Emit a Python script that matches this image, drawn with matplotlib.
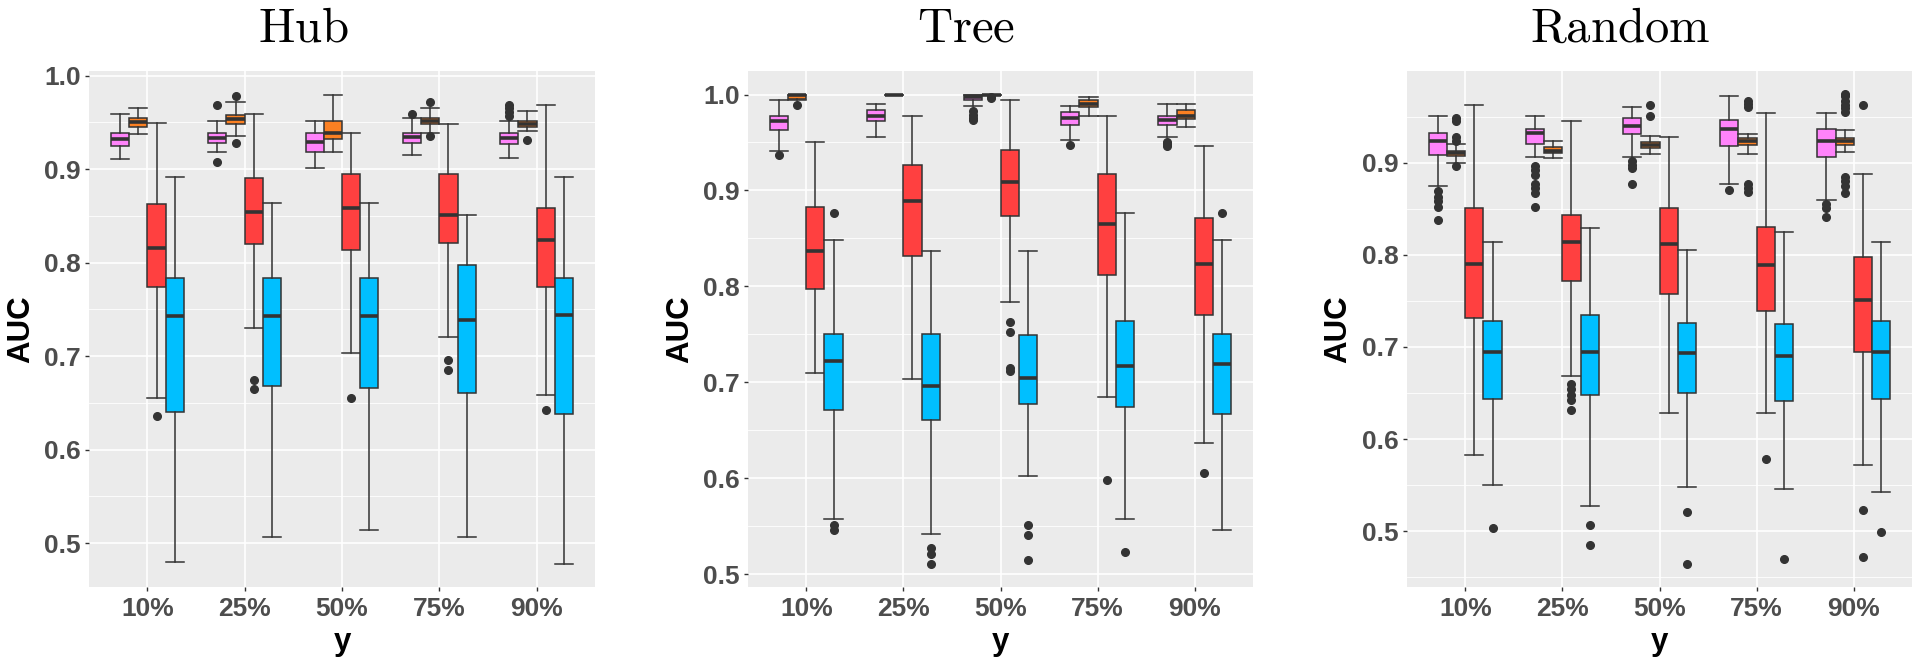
import matplotlib
matplotlib.use("Agg")
import matplotlib.pyplot as plt
from matplotlib.ticker import FixedLocator

plt.rcParams['mathtext.fontset'] = 'cm'

# ---------------- data ----------------
CATEGORIES = ['10%', '25%', '50%', '75%', '90%']
PANEL_TITLES = ['Hub', 'Tree', 'Random']
GROUP_COLORS = ['#FF83FA', '#FB8022', '#FF4040', '#00BFFF']

# rows: [lower whisker, Q1, median, Q3, upper whisker] per category
HUB_PINK = [[0.911, 0.925, 0.932, 0.939, 0.959],
            [0.918, 0.928, 0.933, 0.939, 0.952],
            [0.901, 0.918, 0.929, 0.939, 0.952],
            [0.915, 0.928, 0.934, 0.939, 0.955],
            [0.912, 0.927, 0.933, 0.939, 0.952]]
HUB_PINK_OUT = [[], [0.969, 0.908], [], [0.959], [0.969, 0.965, 0.961, 0.957]]
HUB_ORANGE = [[0.938, 0.945, 0.950, 0.955, 0.965],
              [0.935, 0.948, 0.954, 0.958, 0.972],
              [0.918, 0.932, 0.939, 0.952, 0.979],
              [0.939, 0.948, 0.952, 0.955, 0.965],
              [0.941, 0.945, 0.948, 0.952, 0.962]]
HUB_ORANGE_OUT = [[], [0.978, 0.928], [], [0.972, 0.935], [0.931]]
HUB_RED = [[0.655, 0.774, 0.816, 0.863, 0.949],
           [0.730, 0.820, 0.854, 0.890, 0.959],
           [0.703, 0.814, 0.858, 0.895, 0.939],
           [0.720, 0.821, 0.851, 0.895, 0.948],
           [0.658, 0.774, 0.824, 0.858, 0.969]]
HUB_RED_OUT = [[0.636], [0.674, 0.665], [0.655], [0.696, 0.685], [0.642]]
HUB_BLUE = [[0.480, 0.640, 0.743, 0.784, 0.892],
            [0.507, 0.668, 0.743, 0.784, 0.864],
            [0.514, 0.666, 0.743, 0.784, 0.864],
            [0.507, 0.661, 0.739, 0.797, 0.851],
            [0.478, 0.638, 0.744, 0.784, 0.892]]
HUB_BLUE_OUT = [[], [], [], [], []]

TREE_PINK = [[0.941, 0.963, 0.972, 0.978, 0.994],
             [0.956, 0.972, 0.978, 0.984, 0.990],
             [0.988, 0.994, 0.997, 1.000, 1.000],
             [0.953, 0.9685, 0.976, 0.9815, 0.988],
             [0.956, 0.968, 0.973, 0.978, 0.990]]
TREE_PINK_OUT = [[0.937], [], [0.9825, 0.979, 0.976, 0.973], [0.947], [0.951, 0.948, 0.946]]
TREE_ORANGE = [[0.994, 0.9955, 0.999, 1.000, 1.000],
               [1.000, 1.000, 1.000, 1.000, 1.000],
               [1.000, 1.000, 1.000, 1.000, 1.000],
               [0.978, 0.987, 0.990, 0.994, 0.997],
               [0.966, 0.9745, 0.978, 0.984, 0.990]]
TREE_ORANGE_OUT = [[0.9895], [], [0.997, 0.996], [], []]
TREE_RED = [[0.710, 0.797, 0.837, 0.883, 0.950],
            [0.703, 0.832, 0.889, 0.926, 0.978],
            [0.784, 0.873, 0.909, 0.942, 0.994],
            [0.685, 0.812, 0.865, 0.917, 0.978],
            [0.637, 0.770, 0.823, 0.871, 0.946]]
TREE_RED_OUT = [[], [], [0.763, 0.752, 0.715, 0.712], [0.598], [0.605]]
TREE_BLUE = [[0.558, 0.671, 0.722, 0.750, 0.848],
             [0.542, 0.661, 0.696, 0.750, 0.837],
             [0.602, 0.677, 0.704, 0.749, 0.837],
             [0.558, 0.674, 0.717, 0.764, 0.876],
             [0.546, 0.667, 0.719, 0.750, 0.848]]
TREE_BLUE_OUT = [[0.876, 0.551, 0.546], [0.527, 0.521, 0.511], [0.551, 0.541, 0.515], [0.523], [0.876]]

RANDOM_PINK = [[0.875, 0.908, 0.923, 0.932, 0.951],
               [0.906, 0.920, 0.932, 0.937, 0.951],
               [0.906, 0.931, 0.940, 0.948, 0.960],
               [0.877, 0.918, 0.937, 0.946, 0.972],
               [0.860, 0.906, 0.923, 0.937, 0.954]]
RANDOM_PINK_OUT = [[0.869, 0.863, 0.858, 0.852, 0.838],
                   [0.896, 0.892, 0.887, 0.877, 0.872, 0.867, 0.852],
                   [0.902, 0.898, 0.894, 0.877],
                   [0.870],
                   [0.855, 0.851, 0.841]]
RANDOM_ORANGE = [[0.900, 0.907, 0.911, 0.913, 0.920],
                 [0.905, 0.910, 0.913, 0.917, 0.924],
                 [0.909, 0.916, 0.919, 0.922, 0.929],
                 [0.909, 0.919, 0.923, 0.927, 0.931],
                 [0.912, 0.919, 0.924, 0.927, 0.935]]
RANDOM_ORANGE_OUT = [[0.949, 0.945, 0.928, 0.924, 0.896],
                     [],
                     [0.963, 0.951],
                     [0.967, 0.964, 0.960, 0.877, 0.873, 0.868],
                     [0.975, 0.972, 0.967, 0.963, 0.959, 0.955, 0.885, 0.880, 0.875, 0.867]]
RANDOM_RED = [[0.583, 0.731, 0.790, 0.851, 0.963],
              [0.668, 0.772, 0.814, 0.843, 0.945],
              [0.628, 0.757, 0.812, 0.851, 0.928],
              [0.628, 0.739, 0.789, 0.830, 0.954],
              [0.572, 0.695, 0.751, 0.798, 0.888]]
RANDOM_RED_OUT = [[], [0.660, 0.654, 0.648, 0.642, 0.632], [], [0.578], [0.963, 0.523, 0.472]]
RANDOM_BLUE = [[0.550, 0.643, 0.694, 0.728, 0.814],
               [0.527, 0.648, 0.694, 0.735, 0.829],
               [0.548, 0.650, 0.693, 0.726, 0.805],
               [0.546, 0.641, 0.690, 0.725, 0.825],
               [0.543, 0.643, 0.694, 0.728, 0.814]]
RANDOM_BLUE_OUT = [[0.503], [0.507, 0.485], [0.521, 0.465], [0.470], [0.499]]

PANELS = [
    [(HUB_PINK, HUB_PINK_OUT), (HUB_ORANGE, HUB_ORANGE_OUT),
     (HUB_RED, HUB_RED_OUT), (HUB_BLUE, HUB_BLUE_OUT)],
    [(TREE_PINK, TREE_PINK_OUT), (TREE_ORANGE, TREE_ORANGE_OUT),
     (TREE_RED, TREE_RED_OUT), (TREE_BLUE, TREE_BLUE_OUT)],
    [(RANDOM_PINK, RANDOM_PINK_OUT), (RANDOM_ORANGE, RANDOM_ORANGE_OUT),
     (RANDOM_RED, RANDOM_RED_OUT), (RANDOM_BLUE, RANDOM_BLUE_OUT)],
]

Y_MAJOR = [0.5, 0.6, 0.7, 0.8, 0.9, 1.0]
Y_MINOR = [0.45, 0.55, 0.65, 0.75, 0.85, 0.95]

# ---------------- layout ----------------
W, H = 1920, 662
fig = plt.figure(figsize=(W / 100, H / 100), dpi=100)

AX_PX = [(89, 71, 506, 516), (748, 71, 505, 516), (1407, 71, 505, 516)]
YLIMS = [(0.453, 1.005), (0.4866, 1.0245), (0.4395, 0.9995)]
TITLE_X = [303, 966, 1620]
YLABEL_X = [21, 680, 1338]

BW = 0.1875
OFFSETS = [-1.5 * BW, -0.5 * BW, 0.5 * BW, 1.5 * BW]
EDGE = '#333333'
TICK_FONT = dict(family='Liberation Sans', weight='bold', size=19)

for pi, groups in enumerate(PANELS):
    x0, y0, w, h = AX_PX[pi]
    ax = fig.add_axes([x0 / W, 1 - (y0 + h) / H, w / W, h / H])
    ax.set_facecolor('#EBEBEB')
    for s in ax.spines.values():
        s.set_visible(False)
    ax.set_axisbelow(True)

    for gi, (rows, outs) in enumerate(groups):
        stats = [dict(whislo=r[0], q1=r[1], med=r[2], q3=r[3], whishi=r[4],
                      fliers=list(o)) for r, o in zip(rows, outs)]
        pos = [i + 1 + OFFSETS[gi] for i in range(len(CATEGORIES))]
        ax.bxp(stats, positions=pos, widths=BW, capwidths=BW,
               patch_artist=True, showfliers=True, manage_ticks=False,
               boxprops=dict(facecolor=GROUP_COLORS[gi], edgecolor=EDGE, linewidth=1.1),
               medianprops=dict(color=EDGE, linewidth=2.6, solid_capstyle='butt'),
               whiskerprops=dict(color=EDGE, linewidth=1.1),
               capprops=dict(color=EDGE, linewidth=1.1),
               flierprops=dict(marker='o', markerfacecolor=EDGE, markeredgecolor=EDGE,
                               markersize=5.5, linestyle='none'))

    ax.set_xlim(0.4, len(CATEGORIES) + 0.6)
    ax.set_ylim(*YLIMS[pi])
    ax.set_xticks(range(1, len(CATEGORIES) + 1))
    ax.set_xticklabels(CATEGORIES, fontdict=TICK_FONT, color='#4D4D4D')
    lo, hi = YLIMS[pi]
    maj = [v for v in Y_MAJOR if lo <= v <= hi]
    ax.yaxis.set_major_locator(FixedLocator(maj))
    ax.yaxis.set_minor_locator(FixedLocator([v for v in Y_MINOR if lo <= v <= hi]))
    ax.set_yticklabels([f'{v:.1f}' for v in maj], fontdict=TICK_FONT, color='#4D4D4D')
    ax.tick_params(axis='both', which='major', length=3, width=1, color='#333333')
    ax.tick_params(axis='y', which='major', pad=3)
    ax.tick_params(axis='x', which='major', pad=4)
    ax.tick_params(which='minor', length=0)
    ax.grid(which='major', color='white', linewidth=1.2)
    ax.grid(which='minor', axis='y', color='white', linewidth=0.6)

    fig.text(TITLE_X[pi] / W, 1 - 42 / H, r'$\mathrm{' + PANEL_TITLES[pi] + '}$',
             ha='center', va='baseline', fontsize=35)
    fig.text(YLABEL_X[pi] / W, 1 - (y0 + h / 2) / H, 'AUC', rotation=90,
             ha='center', va='center', family='Liberation Sans', weight='bold', size=22.5)
    fig.text((x0 + w / 2) / W, 1 - 650 / H, 'y', ha='center', va='baseline',
             family='Liberation Sans', weight='bold', size=22.5)

fig.savefig('out.png', dpi=100)
